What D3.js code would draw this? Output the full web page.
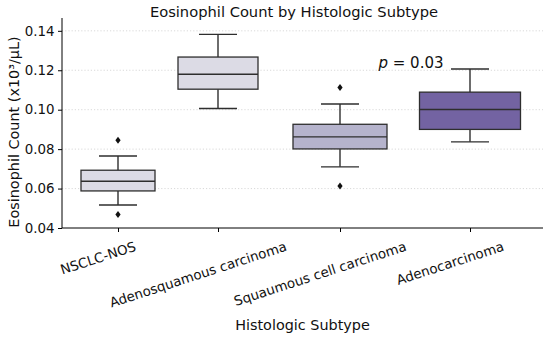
<!DOCTYPE html>
<html>
<head>
<meta charset="utf-8">
<script src="https://cdn.jsdelivr.net/npm/d3@7"></script>
<style>
  html, body { margin: 0; padding: 0; background: #ffffff; }
  svg { display: block; font-family: "DejaVu Sans", sans-serif; }
</style>
</head>
<body>
<svg id="chart" width="550" height="339"></svg>
<script>
// ---------------- data ----------------
const categories = ["NSCLC-NOS", "Adenosquamous carcinoma", "Squaumous cell carcinoma", "Adenocarcinoma"];
const whiskerLow  = [0.0517, 0.1006, 0.0710, 0.0837];
const q1          = [0.0588, 0.1104, 0.0801, 0.0900];
const median      = [0.0637, 0.1180, 0.0862, 0.1001];
const q3          = [0.0693, 0.1267, 0.0926, 0.1089];
const whiskerHigh = [0.0765, 0.1382, 0.1029, 0.1206];
const outliers    = [[0.0468, 0.0845], [], [0.0613, 0.1113], []];
const yTicks      = [0.04, 0.06, 0.08, 0.10, 0.12, 0.14];
const gridTicks   = [0.06, 0.08, 0.10, 0.12, 0.14];
const pText = { label: "p", rest: " = 0.03", between: [2, 3], y: 0.1213 };
const title = "Eosinophil Count by Histologic Subtype";
const xTitle = "Histologic Subtype";
const yTitle = "Eosinophil Count (x10³/μL)";

// ---------------- layout / style ----------------
const boxColors = ["#dcdbe5", "#dcdbe5", "#b5b3cc", "#7363a2"];
const boxPxWidths = [74, 80, 94, 101];
const capPx = 38;
const M = { left: 62, right: 543, top: 18, bottom: 228 };
const tickFont = 13.4, labelFont = 14.4, titleFont = 14.7;
const textColor = "#111";
const lineColor = "#2e2e2e";

const svg = d3.select("#chart");

const x = d3.scaleLinear().domain([0, 1, 2, 3]).range([118, 218, 340, 470]);
const y = d3.scaleLinear().domain([0.04, 0.1465]).range([M.bottom, M.top]);

// grid
svg.append("g").selectAll("line").data(gridTicks).join("line")
  .attr("x1", M.left).attr("x2", M.right)
  .attr("y1", d => y(d)).attr("y2", d => y(d))
  .attr("stroke", "#cfcfcf").attr("stroke-width", 0.8)
  .attr("stroke-dasharray", "1.2,2");

// y axis
const yAxis = d3.axisLeft(y).tickValues(yTicks).tickFormat(d3.format(".2f"))
  .tickSize(4).tickPadding(3.5);
const gy = svg.append("g").attr("transform", `translate(${M.left},0)`).call(yAxis);
gy.select(".domain").attr("stroke", "#000").attr("stroke-width", 1).attr("d", `M0,${M.top}V${M.bottom}`);
gy.selectAll(".tick line").attr("stroke", "#000").attr("stroke-width", 1);
gy.selectAll(".tick text").attr("font-size", tickFont).attr("fill", textColor)
  .attr("font-family", "DejaVu Sans");

// x axis
const xAxis = d3.axisBottom(x).tickValues([0, 1, 2, 3]).tickFormat("").tickSize(4);
const gx = svg.append("g").attr("transform", `translate(0,${M.bottom})`).call(xAxis);
gx.select(".domain").attr("stroke", "#000").attr("stroke-width", 1).attr("d", `M${M.left},0H${M.right}`);
gx.selectAll(".tick line").attr("stroke", "#000").attr("stroke-width", 1);

// rotated x tick labels
const angle = 18, rad = angle * Math.PI / 180;
categories.forEach((c, i) => {
  const g = svg.append("g");
  const t = g.append("text").text(c)
    .attr("font-size", tickFont).attr("fill", textColor)
    .attr("text-anchor", "middle").attr("dy", 0.365 * tickFont);
  const W = t.node().getComputedTextLength();
  const ext = W * Math.sin(rad) + 0.73 * tickFont * Math.cos(rad);
  const cx = x(i) - 20, cy = 241 + ext / 2;
  g.attr("transform", `translate(${cx},${cy}) rotate(${-angle})`);
});

// boxes
const boxes = svg.append("g");
categories.forEach((c, i) => {
  const cx = x(i), hw = boxPxWidths[i] / 2;
  const g = boxes.append("g");
  g.append("line").attr("x1", cx).attr("x2", cx)
    .attr("y1", y(whiskerLow[i])).attr("y2", y(q1[i]))
    .attr("stroke", lineColor).attr("stroke-width", 1.4);
  g.append("line").attr("x1", cx).attr("x2", cx)
    .attr("y1", y(q3[i])).attr("y2", y(whiskerHigh[i]))
    .attr("stroke", lineColor).attr("stroke-width", 1.4);
  [whiskerLow[i], whiskerHigh[i]].forEach(v => {
    g.append("line").attr("x1", cx - capPx / 2).attr("x2", cx + capPx / 2)
      .attr("y1", y(v)).attr("y2", y(v))
      .attr("stroke", lineColor).attr("stroke-width", 1.4);
  });
  g.append("rect").attr("x", cx - hw).attr("width", 2 * hw)
    .attr("y", y(q3[i])).attr("height", y(q1[i]) - y(q3[i]))
    .attr("fill", boxColors[i]).attr("stroke", lineColor).attr("stroke-width", 1.3);
  g.append("line").attr("x1", cx - hw).attr("x2", cx + hw)
    .attr("y1", y(median[i])).attr("y2", y(median[i]))
    .attr("stroke", lineColor).attr("stroke-width", 1.4);
  outliers[i].forEach(v => {
    const py = y(v);
    g.append("path")
      .attr("d", `M${cx},${py - 3.5}L${cx + 2.6},${py}L${cx},${py + 3.5}L${cx - 2.6},${py}Z`)
      .attr("fill", "#111");
  });
});

// p-value annotation
const pt = svg.append("text")
  .attr("x", (x(pText.between[0]) + x(pText.between[1])) / 2 + 6)
  .attr("y", y(pText.y))
  .attr("text-anchor", "middle").attr("font-size", 15).attr("fill", textColor);
pt.append("tspan").attr("font-style", "italic").text(pText.label);
pt.append("tspan").text(pText.rest);

// titles
svg.append("text").attr("x", 294).attr("y", 16.7)
  .attr("text-anchor", "middle").attr("font-size", titleFont).attr("fill", textColor)
  .text(title);
svg.append("text").attr("x", (M.left + M.right) / 2).attr("y", 329.7)
  .attr("text-anchor", "middle").attr("font-size", labelFont).attr("fill", textColor)
  .text(xTitle);
svg.append("text").attr("transform", `translate(18.7,132) rotate(-90)`)
  .attr("text-anchor", "middle").attr("font-size", labelFont).attr("fill", textColor)
  .text(yTitle);
</script>
</body>
</html>
